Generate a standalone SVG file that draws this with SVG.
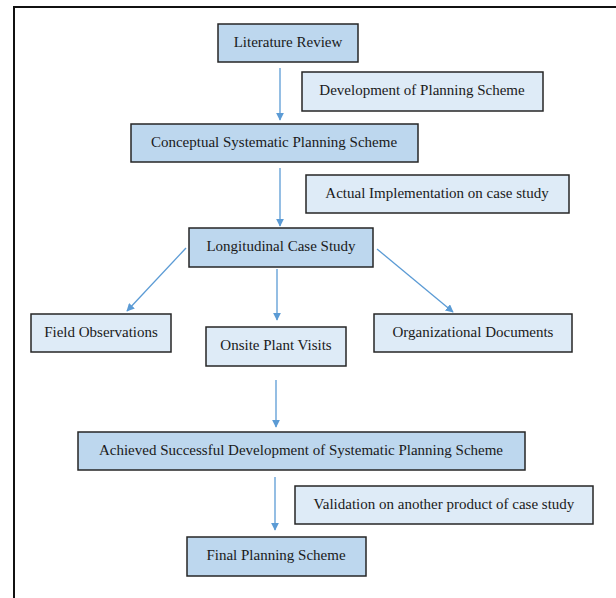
<svg xmlns="http://www.w3.org/2000/svg" width="616" height="598" viewBox="0 0 616 598">
<defs>
<style>
.dk{fill:#BDD7EE;stroke:#262626;stroke-width:1.5}
.lt{fill:#DEEBF7;stroke:#262626;stroke-width:1.5}
text{font-family:"Liberation Serif","Times New Roman",serif;font-size:15px;fill:#1a1a1a;text-anchor:middle}
.c{stroke:#5B9BD5;stroke-width:1.3;fill:none;marker-end:url(#ah)}
</style>
<marker id="ah" viewBox="0 0 10 10" refX="9" refY="5" markerWidth="8" markerHeight="8" markerUnits="userSpaceOnUse" orient="auto">
<path d="M0,0 L10,5 L0,10 z" fill="#5B9BD5"/>
</marker>
</defs>
<rect x="0" y="0" width="616" height="598" fill="#ffffff"/>
<path d="M14,598 L14,7 L616,7" fill="none" stroke="#111" stroke-width="2"/>
<g id="connectors">
<line class="c" x1="280" y1="68" x2="280" y2="120"/>
<line class="c" x1="280" y1="168" x2="280" y2="226"/>
<line class="c" x1="186" y1="248" x2="127" y2="311"/>
<line class="c" x1="277" y1="269" x2="277" y2="320"/>
<line class="c" x1="377" y1="249" x2="453" y2="312"/>
<line class="c" x1="276" y1="380" x2="276" y2="427"/>
<line class="c" x1="275" y1="477" x2="275" y2="530"/>
</g>
<g id="literature-review"><rect class="dk" x="218" y="24" width="140" height="38"/><text x="288" y="47">Literature Review</text></g>
<g id="development"><rect class="lt" x="302" y="72" width="241" height="39"/><text x="422" y="95">Development of Planning Scheme</text></g>
<g id="conceptual"><rect class="dk" x="131" y="124" width="287" height="38"/><text x="274" y="147">Conceptual Systematic Planning Scheme</text></g>
<g id="actual"><rect class="lt" x="306" y="175" width="263" height="38"/><text x="437" y="198">Actual Implementation on case study</text></g>
<g id="longitudinal"><rect class="dk" x="189" y="228" width="184" height="39"/><text x="281" y="251">Longitudinal Case Study</text></g>
<g id="field"><rect class="lt" x="31" y="314" width="140" height="38"/><text x="101" y="337">Field Observations</text></g>
<g id="onsite"><rect class="lt" x="206" y="327" width="140" height="39"/><text x="276" y="350">Onsite Plant Visits</text></g>
<g id="organizational"><rect class="lt" x="374" y="314" width="198" height="38"/><text x="473" y="337">Organizational Documents</text></g>
<g id="achieved"><rect class="dk" x="78" y="432" width="447" height="38"/><text x="301" y="455">Achieved Successful Development of Systematic Planning Scheme</text></g>
<g id="validation"><rect class="lt" x="295" y="486" width="298" height="38"/><text x="444" y="509">Validation on another product of case study</text></g>
<g id="final"><rect class="dk" x="187" y="537" width="179" height="39"/><text x="276" y="560">Final Planning Scheme</text></g>
</svg>
